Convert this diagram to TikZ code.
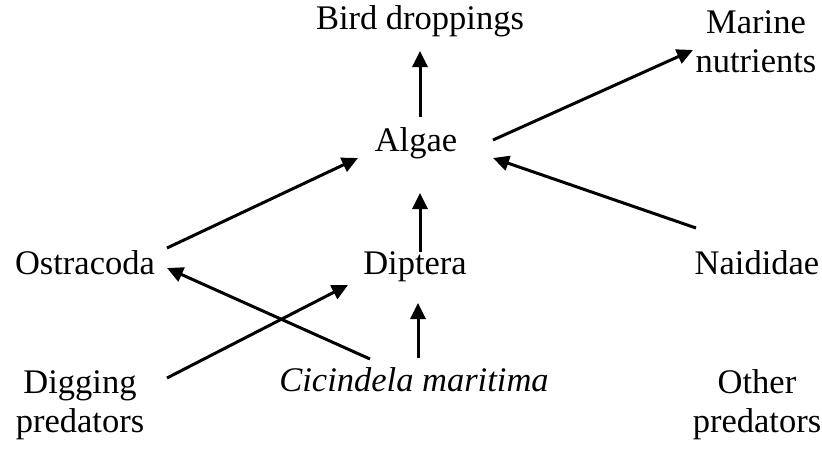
\documentclass[tikz,border=0pt]{standalone}
\usepackage{fontspec}
\setmainfont{Liberation Serif}
\usetikzlibrary{arrows.meta,calc}
\begin{document}
\begin{tikzpicture}[x=1pt,y=-1pt,
  label/.style={inner sep=0pt,anchor=base,font=\fontsize{34.5}{39}\selectfont},
  twoline/.style={label,align=center},
  flow/.style={line width=3pt,-{Triangle[length=16pt,width=15pt]}}]
\useasboundingbox (0,0) rectangle (822,448);
% taxa and resources (two-line labels sit on their last baseline)
\node[label] (bird) at (420,29) {Bird droppings};
\node[twoline] (marine) at (756,72) {Marine\\nutrients};
\node[label] (algae) at (416,151) {Algae};
\node[label] (ostra) at (85,274) {Ostracoda};
\node[label] (dipt) at (415,274) {Diptera};
\node[label] (naid) at (757,274) {Naididae};
\node[twoline] (dig) at (80,432) {Digging\\predators};
\node[label] (cic) at (414,391) {\itshape Cicindela maritima};
\node[twoline] (other) at (757,432) {Other\\predators};
% connector end points around the labels
\coordinate (a1) at ($(algae.base)+(4,-34)$);
\coordinate (b1) at ($(bird.base)+(0,22)$);
\coordinate (a2) at ($(algae.base)+(77,-11)$);
\coordinate (m1) at (693,50);
\coordinate (n1) at (696,228);
\coordinate (a3) at ($(algae.base)+(77,7)$);
\coordinate (o1) at (167,248);
\coordinate (a4) at ($(algae.base)+(-58,7)$);
\coordinate (d1) at ($(dipt.base)+(5,-22)$);
\coordinate (a5) at ($(algae.base)+(4,42)$);
\coordinate (c1) at (418,358);
\coordinate (d2) at ($(dipt.base)+(3,29)$);
\coordinate (c2) at (370,359);
\coordinate (o2) at (167,268);
\coordinate (g1) at (167,378);
\coordinate (d3) at (348,285);
% flows
\draw[flow] (a1) -- (b1);
\draw[flow] (a2) -- (m1);
\draw[flow] (n1) -- (a3);
\draw[flow] (o1) -- (a4);
\draw[flow] (d1) -- (a5);
\draw[flow] (c1) -- (d2);
\draw[flow] (c2) -- (o2);
\draw[flow] (g1) -- (d3);
\end{tikzpicture}
\end{document}
